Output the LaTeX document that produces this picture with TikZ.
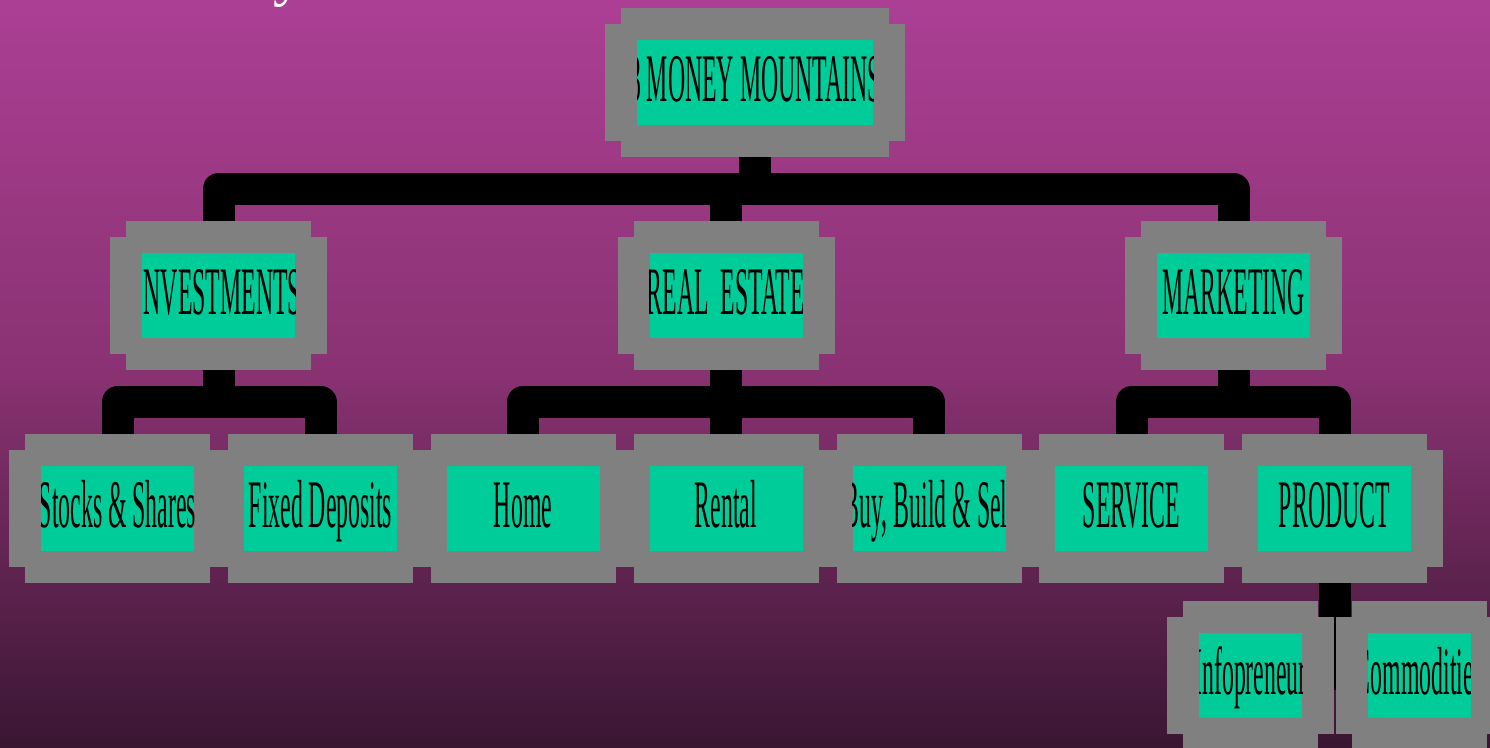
\documentclass[tikz,border=0pt]{standalone}
\usepackage{fontspec}
\newfontfamily\tilefont[FakeStretch=0.35]{Liberation Serif}
\newfontfamily\headfont{Liberation Serif}
\usepackage{tikz}

\definecolor{tilegreen}{RGB}{0,204,153}
\definecolor{framegray}{RGB}{128,128,128}
\definecolor{skytop}{RGB}{172,63,148}
\definecolor{skymid}{RGB}{137,50,114}
\definecolor{skybot}{RGB}{58,22,50}
\pgfdeclareverticalshading{sky}{100bp}{color(0bp)=(skybot); color(25bp)=(skybot);
  color(50bp)=(skymid); color(75bp)=(skytop); color(100bp)=(skytop)}

\pgfdeclarelayer{back}
\pgfdeclarelayer{wires}
\pgfdeclarelayer{frames}
\pgfsetlayers{back,wires,frames,main}

\newcommand\mtile[5]{%
  \node[tile,minimum width=#4pt,
    path picture={\node[anchor=base,inner sep=0pt,font=\tilefont\fontsize{68}{70}\selectfont]
      at ([yshift=-19pt]path picture bounding box.center) {#5};}]
    (#1) at (#2,#3) {};}

\begin{document}
\begin{tikzpicture}[x=1pt,y=-1pt,
    tile/.style={fill=tilegreen,minimum height=85pt,inner sep=0pt,outer sep=0pt},
    wire/.style={line width=32pt,line join=round},
    frame/.style={fill=framegray}]
  \useasboundingbox
    (0,0)
    rectangle
    (1490,747);
  \begin{pgfonlayer}{back}
    \fill[shading=sky]
      (0,0)
      rectangle
      (1490,747);
  \end{pgfonlayer}

  \node[anchor=base west,inner sep=0pt,text=white,font=\headfont\fontsize{60}{60}\selectfont]
    (title) at (78,-6) {Choose your Vehicle};

  \mtile{money}{755}{82.5}{236}{3 MONEY MOUNTAINS}
  \mtile{invest}{218.5}{295.5}{153}{INVESTMENTS}
  \mtile{estate}{726}{295.5}{153}{REAL~~ESTATE}
  \mtile{market}{1233.5}{295.5}{153}{MARKETING}
  \mtile{stocks}{117.5}{508.5}{153}{Stocks \& Shares}
  \mtile{deposits}{320.5}{508.5}{153}{Fixed Deposits}
  \mtile{home}{523}{508.5}{153}{Home}
  \mtile{rental}{726}{508.5}{153}{Rental}
  \mtile{bbs}{929}{508.5}{153}{Buy, Build \& Sell}
  \mtile{service}{1131.5}{508.5}{153}{SERVICE}
  \mtile{product}{1334.5}{508.5}{153}{PRODUCT}
  \mtile{infopren}{1250.5}{675}{103}{Infopreneur}
  \mtile{commod}{1419}{675}{103}{Commodities}

  \coordinate (bus1) at (0,189);
  \coordinate (bus2) at (0,402);
  \coordinate (bus3) at (0,690);

  \begin{pgfonlayer}{wires}
    \draw[wire]
      (money)
      --
      (money |- bus1);
    \draw[wire]
      (invest)
      -- (invest |- bus1)
      -- (market |- bus1)
      -- (market);
    \draw[wire]
      (estate)
      --
      (estate |- bus1);
    \draw[wire]
      (stocks)
      -- (stocks |- bus2)
      -- (deposits |- bus2)
      -- (deposits);
    \draw[wire]
      (invest)
      --
      (invest |- bus2);
    \draw[wire]
      (home)
      -- (home |- bus2)
      -- (bbs |- bus2)
      -- (bbs);
    \draw[wire]
      (estate)
      --
      (rental);
    \draw[wire]
      (service)
      -- (service |- bus2)
      -- (product |- bus2)
      -- (product);
    \draw[wire]
      (market)
      --
      (market |- bus2);
    \draw[wire]
      (product)
      --
      (product |- bus3);
  \end{pgfonlayer}

  \begin{pgfonlayer}{frames}
    \foreach \n in {money,invest,estate,market,stocks,deposits,home,rental,bbs,service,product,infopren,commod} {
      \fill[frame]
        ([xshift=-16pt,yshift=32pt]\n.north west)
        rectangle
        ([xshift=16pt,yshift=-32pt]\n.south east);
      \fill[frame]
        ([xshift=-32pt,yshift=16pt]\n.north west)
        rectangle
        ([xshift=32pt,yshift=-16pt]\n.south east);
    }
  \end{pgfonlayer}
\end{tikzpicture}
\end{document}
